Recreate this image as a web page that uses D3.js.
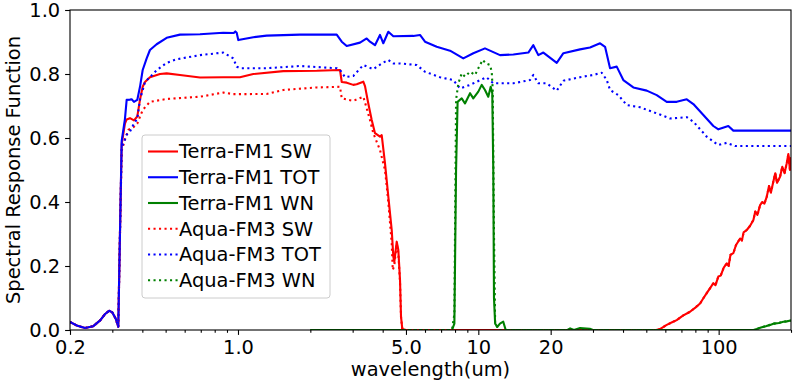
<!DOCTYPE html>
<html>
<head>
<meta charset="utf-8">
<script src="https://cdn.jsdelivr.net/npm/d3@7"></script>
<style>
  body { margin: 0; background: #fff; }
  text { font-family: "DejaVu Sans", sans-serif; fill: #000; }
</style>
</head>
<body>
<div id="chart"></div>
<script>
// ---- data: [wavelength um, response] ----
const uvPart = [[0.2,0.025],[0.215,0.013],[0.231,0.006],[0.25,0.012],[0.267,0.03],[0.28,0.05],[0.291,0.06],[0.30,0.055],[0.31,0.035],[0.3176,0.01],[0.3228,0.30]];

const farIrSW = [[55,0],[57,0.003],[60.8,0.016],[64,0.024],[66.9,0.031],[71,0.045],[76,0.057],[80,0.07],[83.7,0.083],[86.5,0.1],[89.2,0.115],[92,0.13],[95,0.146],[97,0.14],[99.7,0.167],[102,0.17],[105,0.195],[108.1,0.208],[110,0.2],[112,0.235],[115.1,0.24],[118,0.265],[122.8,0.286],[125,0.28],[127,0.305],[130.9,0.3125],[135,0.325],[139.5,0.344],[142,0.37],[145,0.36],[148.7,0.39],[152,0.40],[155,0.395],[158.6,0.417],[162,0.45],[165,0.43],[168.9,0.464],[172,0.49],[175,0.46],[180.1,0.479],[184,0.51],[188,0.49],[192,0.521],[195,0.55],[198,0.5],[200,0.54]];

const farIrWN = [[140,0],[144,0.003],[150,0.008],[157,0.012],[163.7,0.016],[170,0.02],[178,0.022],[185.9,0.026],[192,0.027],[200,0.03]];

const terraSW = uvPart.concat([[0.3281,0.58],[0.3386,0.645],[0.3442,0.658],[0.3553,0.662],[0.3691,0.655],[0.381,0.667],[0.3911,0.72],[0.4013,0.76],[0.4102,0.775],[0.4302,0.79],[0.4735,0.80],[0.505,0.802],[0.5737,0.797],[0.695,0.789],[0.8685,0.79],[1.019,0.79],[1.158,0.80],[1.543,0.809],[2.126,0.81],[2.658,0.8125],[2.702,0.775],[2.834,0.773],[3.018,0.766],[3.119,0.768],[3.322,0.776],[3.377,0.762],[3.485,0.708],[3.601,0.656],[3.716,0.615],[3.898,0.604],[3.963,0.609],[4.09,0.521],[4.222,0.417],[4.362,0.3125],[4.43,0.229],[4.472,0.213],[4.576,0.276],[4.647,0.25],[4.723,0.156],[4.768,0.042],[4.828,0.003],[5.0,0],[10,0],[30,0]]).concat(farIrSW);

const terraTOT = uvPart.concat([[0.3281,0.59],[0.3386,0.66],[0.3442,0.719],[0.3553,0.72],[0.361,0.721],[0.3691,0.713],[0.381,0.719],[0.3911,0.76],[0.4013,0.8125],[0.4169,0.849],[0.4302,0.875],[0.4587,0.893],[0.505,0.913],[0.5737,0.923],[0.695,0.924],[0.8685,0.929],[0.96,0.928],[0.975,0.933],[0.9876,0.929],[1.003,0.906],[1.158,0.915],[1.316,0.92],[1.811,0.923],[2.575,0.923],[2.702,0.901],[2.834,0.8875],[3.219,0.898],[3.432,0.911],[3.542,0.901],[3.716,0.89],[3.898,0.922],[4.024,0.896],[4.222,0.932],[4.43,0.918],[5.364,0.919],[5.719,0.922],[6.0,0.901],[6.713,0.885],[7.625,0.873],[8.66,0.849],[9.533,0.865],[10.66,0.88],[12.31,0.859],[13.99,0.861],[16.15,0.867],[16.94,0.89],[17.77,0.859],[18.65,0.867],[21.2,0.835],[22.59,0.865],[26.5,0.877],[29.16,0.883],[32.11,0.896],[33.68,0.885],[35.33,0.818],[37.66,0.823],[40.12,0.781],[44.16,0.758],[50.21,0.748],[55.25,0.734],[60.81,0.713],[66.93,0.713],[73.66,0.721],[78.47,0.706],[86.37,0.672],[95.04,0.6375],[99.72,0.627],[109.7,0.6375],[115.1,0.623],[200,0.623]]);

const terraWN = [[2.0,0],[7.77,0],[7.95,0.02],[8.08,0.5],[8.2,0.713],[8.53,0.724],[8.8,0.708],[9.24,0.74],[9.53,0.724],[10.0,0.745],[10.33,0.766],[10.66,0.75],[11.0,0.729],[11.26,0.76],[11.43,0.74],[11.54,0.5],[11.62,0.1],[11.75,0.02],[12.0,0.01],[12.3,0.02],[12.7,0.026],[13.0,0],[23.5,0],[24.1,0.005],[25,0],[26.5,0.006],[29.1,0.004],[30,0]].concat(farIrWN);

const aquaSW = uvPart.concat([[0.3281,0.56],[0.3386,0.595],[0.3495,0.625],[0.3691,0.635],[0.381,0.645],[0.4013,0.6875],[0.4302,0.713],[0.505,0.722],[0.695,0.729],[0.8685,0.742],[0.9559,0.737],[1.316,0.7375],[1.543,0.75],[2.126,0.758],[2.658,0.76],[2.702,0.724],[2.877,0.719],[3.018,0.716],[3.322,0.729],[3.432,0.693],[3.542,0.656],[3.656,0.615],[3.898,0.5625],[4.09,0.50],[4.222,0.40],[4.362,0.27],[4.404,0.1875],[4.47,0.2],[4.576,0.27],[4.647,0.24],[4.723,0.15],[4.768,0.04],[4.828,0.003],[5.0,0],[10,0],[30,0]]).concat(farIrSW);

const aquaTOT = uvPart.concat([[0.3281,0.57],[0.3442,0.61],[0.3553,0.62],[0.3691,0.645],[0.381,0.66],[0.3911,0.72],[0.4102,0.775],[0.4302,0.79],[0.4587,0.812],[0.505,0.835],[0.5555,0.846],[0.695,0.859],[0.8685,0.867],[0.9559,0.849],[0.9876,0.823],[1.019,0.818],[1.316,0.818],[1.811,0.825],[2.575,0.818],[2.658,0.8125],[2.788,0.79],[3.018,0.794],[3.322,0.828],[3.656,0.815],[3.963,0.833],[4.222,0.844],[4.43,0.833],[4.723,0.833],[5.542,0.828],[6.0,0.807],[6.929,0.79],[7.87,0.781],[8.39,0.755],[9.24,0.766],[10.8,0.79],[11.54,0.771],[13.99,0.771],[16.4,0.781],[16.94,0.797],[17.77,0.771],[19.26,0.771],[21.2,0.748],[22.59,0.779],[26.5,0.79],[30.1,0.797],[32.63,0.804],[34.23,0.781],[35.33,0.75],[38.24,0.734],[41.47,0.703],[47.1,0.696],[55.25,0.677],[62.77,0.661],[73.66,0.665],[78.47,0.651],[89.22,0.604],[99.72,0.578],[108.1,0.585],[117,0.575],[200,0.575]]);

const aquaWN = [[2.0,0],[7.77,0],[7.95,0.05],[8.08,0.72],[8.26,0.771],[8.53,0.802],[8.8,0.792],[9.24,0.807],[9.69,0.797],[10.0,0.818],[10.43,0.844],[10.76,0.833],[11.19,0.828],[11.37,0.807],[11.48,0.75],[11.62,0.3],[11.75,0.02],[12.2,0],[140,0]].concat(farIrWN.slice(1));

const seriesNames = ["Terra-FM1 SW", "Terra-FM1 TOT", "Terra-FM1 WN", "Aqua-FM3 SW", "Aqua-FM3 TOT", "Aqua-FM3 WN"];
const seriesData = [terraSW, terraTOT, terraWN, aquaSW, aquaTOT, aquaWN];
const seriesColors = ["#ff0000", "#0000ff", "#008000", "#ff0000", "#0000ff", "#008000"];
const seriesDotted = [false, false, false, true, true, true];

const xMajor = [0.2, 1, 5, 10, 20, 100];
const xMajorLabels = ["0.2", "1.0", "5.0", "10", "20", "100"];
const xMinor = [0.3,0.4,0.5,0.6,0.7,0.8,0.9,2,3,4,6,7,8,9,30,40,50,60,70,80,90,200];
const yTicks = [0, 0.2, 0.4, 0.6, 0.8, 1.0];

// ---- layout ----
const W = 798, H = 388;
const plotLeft = 70, plotRight = 791, plotTop = 10, plotBottom = 330;
const fontSize = 19.4;

const svg = d3.select("#chart").append("svg")
  .attr("width", W).attr("height", H);

const x = d3.scaleLog().domain([0.2, 200]).range([plotLeft, plotRight]);
const y = d3.scaleLinear().domain([0, 1]).range([plotBottom, plotTop]);

svg.append("defs").append("clipPath").attr("id", "plotclip")
  .append("rect").attr("x", plotLeft).attr("y", plotTop)
  .attr("width", plotRight - plotLeft).attr("height", plotBottom - plotTop);

const line = d3.line().x(d => x(d[0])).y(d => y(d[1]));

const gLines = svg.append("g").attr("clip-path", "url(#plotclip)");
seriesData.forEach((data, i) => {
  gLines.append("path")
    .datum(data)
    .attr("d", line)
    .attr("fill", "none")
    .attr("stroke", seriesColors[i])
    .attr("stroke-width", 2.1)
    .attr("stroke-linejoin", "round")
    .attr("stroke-dasharray", seriesDotted[i] ? "2.1,3.4" : null);
});

// ---- axes ----
svg.append("g")
  .attr("transform", `translate(0,${plotBottom})`)
  .call(d3.axisBottom(x).tickValues(xMajor)
    .tickFormat((d, i) => xMajorLabels[i]).tickSize(4.9).tickPadding(4.9));
svg.append("g")
  .attr("transform", `translate(0,${plotBottom})`)
  .call(d3.axisBottom(x).tickValues(xMinor).tickFormat("").tickSize(2.8));

svg.append("g")
  .attr("transform", `translate(${plotLeft},0)`)
  .call(d3.axisLeft(y).tickValues(yTicks).tickFormat(d3.format(".1f"))
    .tickSize(4.9).tickPadding(4.9));

svg.selectAll(".tick line").attr("stroke", "#000").attr("stroke-width", 1.1);
svg.selectAll(".domain").remove();
svg.selectAll(".tick text")
  .style("font-family", "DejaVu Sans, sans-serif")
  .style("font-size", fontSize + "px")
  .attr("fill", "#000");

// frame
svg.append("rect")
  .attr("x", plotLeft).attr("y", plotTop)
  .attr("width", plotRight - plotLeft).attr("height", plotBottom - plotTop)
  .attr("fill", "none").attr("stroke", "#000").attr("stroke-width", 1.1);

// axis labels
svg.append("text")
  .attr("x", (plotLeft + plotRight) / 2).attr("y", 376)
  .attr("text-anchor", "middle")
  .style("font-size", fontSize + "px")
  .text("wavelength(um)");

svg.append("text")
  .attr("transform", `translate(20,${(plotTop + plotBottom) / 2}) rotate(-90)`)
  .attr("text-anchor", "middle")
  .style("font-size", fontSize + "px")
  .text("Spectral Response Function");

// ---- legend ----
const legend = svg.append("g");
legend.append("rect")
  .attr("x", 142).attr("y", 135)
  .attr("width", 188).attr("height", 163)
  .attr("rx", 3)
  .attr("fill", "#fff").attr("fill-opacity", 0.8)
  .attr("stroke", "#cccccc").attr("stroke-width", 1);

seriesNames.forEach((name, i) => {
  const cy = 151.5 + i * 25.75;
  legend.append("line")
    .attr("x1", 148).attr("x2", 178)
    .attr("y1", cy).attr("y2", cy)
    .attr("stroke", seriesColors[i])
    .attr("stroke-width", 2.1)
    .attr("stroke-dasharray", seriesDotted[i] ? "2.1,3.4" : null);
  legend.append("text")
    .attr("x", 179).attr("y", cy)
    .attr("dy", "0.36em")
    .style("font-size", fontSize + "px")
    .text(name);
});
</script>
</body>
</html>
